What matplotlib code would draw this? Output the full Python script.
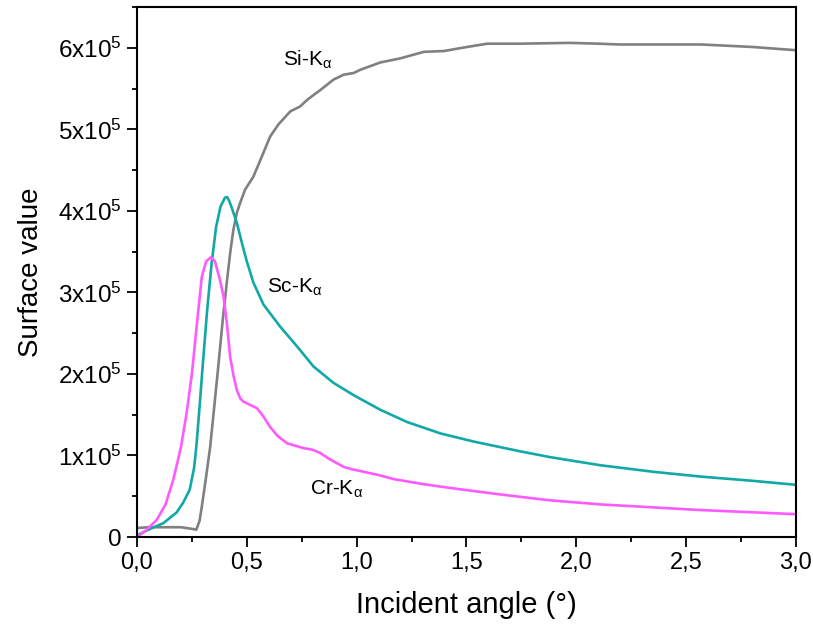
import numpy as np
import matplotlib
matplotlib.use("Agg")
import matplotlib.pyplot as plt
from matplotlib.ticker import FuncFormatter, MultipleLocator

plt.rcParams['font.family'] = ['Liberation Sans', 'DejaVu Sans']
plt.rcParams['mathtext.fontset'] = 'custom'
plt.rcParams['mathtext.rm'] = 'Liberation Sans'
plt.rcParams['mathtext.it'] = 'Liberation Sans:italic'

# incident angle (deg) and surface values (x1e5)
si_x = [0.0, 0.05, 0.10, 0.15, 0.20, 0.25, 0.27, 0.285, 0.295, 0.31, 0.333,
        0.35, 0.37, 0.39, 0.41, 0.425, 0.439, 0.455, 0.47, 0.492, 0.530,
        0.569, 0.606, 0.644, 0.698, 0.743, 0.774, 0.834, 0.895, 0.941, 0.986,
        1.017, 1.108, 1.199, 1.306, 1.397, 1.503, 1.595, 1.746, 1.97, 2.1,
        2.2, 2.4, 2.57, 2.8, 3.0]
si_y = [0.11, 0.12, 0.12, 0.12, 0.12, 0.10, 0.09, 0.2, 0.37, 0.65, 1.1,
        1.55, 2.09, 2.65, 3.15, 3.5, 3.77, 3.98, 4.1, 4.26, 4.42,
        4.67, 4.91, 5.06, 5.22, 5.28, 5.36, 5.48, 5.61, 5.67, 5.69,
        5.73, 5.82, 5.87, 5.95, 5.96, 6.01, 6.05, 6.05, 6.06, 6.05,
        6.04, 6.04, 6.04, 6.01, 5.97]

sc_x = [0.0, 0.06, 0.12, 0.18, 0.21, 0.24, 0.26, 0.27, 0.285, 0.30, 0.32,
        0.34, 0.36, 0.38, 0.40, 0.41, 0.42, 0.43, 0.455, 0.48, 0.50, 0.53,
        0.576, 0.652, 0.728, 0.804, 0.895, 0.986, 1.108, 1.230, 1.382, 1.534,
        1.746, 1.88, 2.11, 2.35, 2.57, 2.8, 3.0]
sc_y = [0.02, 0.1, 0.17, 0.3, 0.42, 0.58, 0.85, 1.1, 1.6, 2.13, 2.8,
        3.36, 3.8, 4.05, 4.16, 4.17, 4.12, 4.05, 3.85, 3.58, 3.38, 3.12,
        2.85, 2.58, 2.34, 2.09, 1.89, 1.74, 1.56, 1.41, 1.27, 1.17,
        1.05, 0.98, 0.88, 0.8, 0.74, 0.69, 0.64]

cr_x = [0.0, 0.04, 0.09, 0.13, 0.165, 0.20, 0.226, 0.25, 0.27, 0.295, 0.315,
        0.336, 0.355, 0.378, 0.394, 0.41, 0.424, 0.44, 0.455, 0.47, 0.485,
        0.515, 0.546, 0.575, 0.606, 0.64, 0.683, 0.72, 0.758, 0.80, 0.834,
        0.88, 0.941, 0.98, 1.032, 1.10, 1.169, 1.3, 1.43, 1.66, 1.88, 2.11,
        2.57, 3.0]
cr_y = [0.0, 0.08, 0.21, 0.4, 0.7, 1.1, 1.52, 2.0, 2.54, 3.19, 3.38,
        3.43, 3.38, 3.15, 2.95, 2.6, 2.21, 1.97, 1.80, 1.70, 1.66,
        1.62, 1.58, 1.48, 1.35, 1.24, 1.15, 1.12, 1.09, 1.07, 1.03,
        0.95, 0.86, 0.83, 0.80, 0.76, 0.71, 0.65, 0.6, 0.52, 0.45, 0.4,
        0.33, 0.28]

fig = plt.figure(figsize=(8.13, 6.24), dpi=100)
ax = fig.add_axes([0.1685, 0.1394, 0.8105, 0.8494])

ax.plot(si_x, np.array(si_y) * 1e5, color='#808080', lw=1.9)
ax.plot(sc_x, np.array(sc_y) * 1e5, color='#12A8A8', lw=1.9)
ax.plot(cr_x, np.array(cr_y) * 1e5, color='#FF5AFF', lw=1.9)

ax.text(0.78, 5.85e5, 'Si-K$_{\\mathrm{α}}$', fontsize=15, ha='center', va='center')
ax.text(0.72, 3.06e5, 'Sc-K$_{\\mathrm{α}}$', fontsize=15, ha='center', va='center')
ax.text(0.907, 0.58e5, 'Cr-K$_{\\mathrm{α}}$', fontsize=15, ha='center', va='center')

ax.set_xlim(0, 3.0)
ax.set_ylim(0, 6.5e5)
ax.xaxis.set_major_locator(MultipleLocator(0.5))
ax.xaxis.set_minor_locator(MultipleLocator(0.25))
ax.yaxis.set_major_locator(MultipleLocator(1e5))
ax.yaxis.set_minor_locator(MultipleLocator(0.5e5))
ax.xaxis.set_major_formatter(FuncFormatter(lambda v, p: f"{v:.1f}".replace('.', ',')))
ax.yaxis.set_major_formatter(FuncFormatter(
    lambda v, p: '0' if abs(v) < 1 else f"{int(round(v / 1e5))}x10$^{{5}}$"))

ax.tick_params(which='both', direction='out', width=1.3, pad=4)
ax.tick_params(axis='x', labelsize=17)
ax.tick_params(axis='y', labelsize=17.5)
ax.tick_params(which='major', length=7)
ax.tick_params(which='minor', length=3.5)
for s in ax.spines.values():
    s.set_linewidth(1.5)

ax.set_xlabel('Incident angle (°)', fontsize=21, labelpad=12)
ax.set_ylabel('Surface value', fontsize=20, labelpad=10)

fig.savefig('out.png', dpi=100)
